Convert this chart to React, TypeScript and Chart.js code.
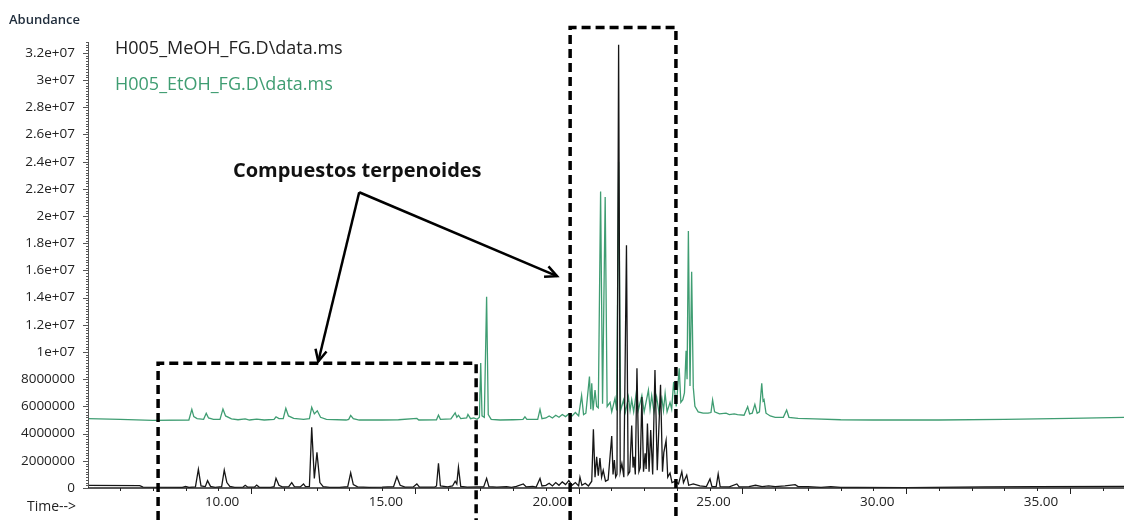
import React, { useEffect, useRef } from "react";
import { Chart, registerables } from "chart.js";

Chart.register(...registerables);

// ---- axis ranges (time in minutes, abundance in millions of counts) ----
const X_MIN = 5.02;
const X_MAX = 36.65;
const Y_MIN = 0;
const Y_MAX = 32.8;

const xTickValues = [10, 15, 20, 25, 30, 35];
const xTickLabels = ["10.00", "15.00", "20.00", "25.00", "30.00", "35.00"];

const yTickValues = [0, 2, 4, 6, 8, 10, 12, 14, 16, 18, 20, 22, 24, 26, 28, 30, 32];
const yTickLabels = [
  "0", "2000000", "4000000", "6000000", "8000000", "1e+07", "1.2e+07", "1.4e+07",
  "1.6e+07", "1.8e+07", "2e+07", "2.2e+07", "2.4e+07", "2.6e+07", "2.8e+07", "3e+07", "3.2e+07",
];

const seriesNames = ["H005_MeOH_FG.D\\data.ms", "H005_EtOH_FG.D\\data.ms"];
const yAxisTitle = "Abundance";
const xAxisTitle = "Time-->";
const annotationText = "Compuestos terpenoides";

// ---- MeOH trace (black) ----
const meohTime = [
  5.02, 6.6, 6.7, 7.9, 8.0, 8.1, 8.3, 8.39, 8.47, 8.6, 8.67, 8.76, 8.9, 9.1, 9.18, 9.26, 9.35, 9.5,
  9.75, 9.82, 9.9, 10.1, 10.17, 10.25, 10.6, 10.7, 10.76, 10.85, 10.95, 11.15, 11.24, 11.32, 11.5,
  11.6, 11.66, 11.78, 11.85, 11.93, 12.01, 12.1, 12.2, 12.4, 12.7, 12.95, 13.04, 13.12, 13.25, 13.6,
  14.0, 14.35, 14.45, 14.55, 14.7, 14.95, 15.06, 15.14, 15.6, 15.66, 15.72, 15.78, 16.0, 16.15,
  16.23, 16.28, 16.33, 16.4, 16.6, 16.9, 17.1, 17.19, 17.26, 17.5, 17.8, 17.95, 18.1, 18.31, 18.4,
  18.6, 18.7, 18.82, 18.88, 19.0, 19.1, 19.2, 19.3, 19.4, 19.5, 19.6, 19.7, 19.8, 19.9, 20.0, 20.04,
  20.1, 20.2, 20.3, 20.4, 20.45, 20.5, 20.55, 20.6, 20.65, 20.7, 20.75, 20.82, 20.9, 21.01, 21.05,
  21.09, 21.13, 21.17, 21.22, 21.27, 21.32, 21.38, 21.46, 21.51, 21.56, 21.62, 21.66, 21.69, 21.73,
  21.78, 21.84, 21.88, 21.93, 21.98, 22.03, 22.06, 22.1, 22.15, 22.2, 22.26, 22.33, 22.4, 22.5,
  22.56, 22.6, 22.67, 22.72, 22.79, 22.85, 22.95, 23.05, 23.15, 23.2, 23.3, 23.36, 23.5, 23.7, 23.9,
  24.01, 24.07, 24.2, 24.26, 24.32, 24.6, 24.83, 24.9, 25.2, 25.4, 25.6, 25.8, 26.0, 26.3, 26.61,
  26.7, 27.0, 27.4, 27.7, 28.0, 28.5, 30.0, 32.4, 34.0, 36.65,
];
const meohAbundance = [
  0.2, 0.18, 0.06, 0.05, 0.12, 0.04, 0.08, 1.37, 0.15, 0.1, 0.54, 0.12, 0.05, 0.1, 1.32, 0.4, 0.12, 0.05,
  0.06, 0.2, 0.06, 0.06, 0.22, 0.05, 0.05, 0.1, 0.71, 0.2, 0.08, 0.1, 0.39, 0.1, 0.08,
  0.3, 0.1, 0.12, 4.46, 0.7, 2.62, 0.4, 0.1, 0.05, 0.05, 0.1, 1.12, 0.25, 0.08, 0.05,
  0.06, 0.1, 0.83, 0.2, 0.06, 0.08, 0.3, 0.06, 0.06, 0.15, 1.81, 0.15, 0.08, 0.15,
  0.5, 0.3, 1.52, 0.12, 0.06, 0.08, 0.08, 0.71, 0.1, 0.06, 0.1, 0.05, 0.12, 0.3, 0.08,
  0.12, 0.06, 0.7, 0.15, 0.2, 0.35, 0.15, 0.4, 0.2, 0.45, 0.25, 0.55, 0.2, 0.4, 0.15, 0.8,
  0.2, 0.35, 0.15, 0.5, 4.31, 0.8, 2.3, 0.9, 2.2, 0.8, 1.3, 0.5, 0.6, 3.82, 1.0,
  2.06, 0.8, 1.0, 32.6, 1.2, 1.8, 0.8, 17.85, 1.0, 1.2, 4.6, 1.5, 2.3, 1.0,
  8.8, 1.2, 1.5, 6.7, 1.2, 2.55, 1.4, 4.75, 1.2, 4.26, 1.0, 8.67, 1.3, 7.6,
  1.2, 2.6, 3.5, 0.8, 1.1, 0.4, 0.5, 0.3, 1.2, 0.4, 0.95, 0.2, 0.3, 0.15, 0.1,
  0.66, 0.1, 0.1, 1.03, 0.1, 0.08, 0.3, 0.08, 0.1, 0.2, 0.1, 0.15, 0.1, 0.15, 0.25,
  0.1, 0.1, 0.05, 0.1, 0.05, 0.04, 0.03, 0.08, 0.1, 0.12,
];

// ---- EtOH trace (green) ----
const etohTime = [
  5.02, 6.0, 7.0, 8.1, 8.19, 8.25, 8.35, 8.55, 8.63, 8.7, 8.85, 9.05, 9.14, 9.22, 9.4, 9.6, 9.82, 9.95,
  10.17, 10.4, 10.7, 10.76, 10.85, 10.98, 11.06, 11.14, 11.3, 11.6, 11.78, 11.85, 11.93, 12.02, 12.12,
  12.3, 12.9, 12.98, 13.04, 13.12, 13.3, 14.0, 14.5, 15.06, 15.12, 15.66, 15.72, 15.78, 16.1, 16.23,
  16.28, 16.33, 16.4, 16.58, 16.62, 16.7, 16.8, 16.9, 16.97, 17.01, 17.05, 17.12, 17.19, 17.24, 17.33,
  17.6, 18.0, 18.3, 18.36, 18.42, 18.75, 18.82, 18.88, 19.0, 19.1, 19.2, 19.3, 19.4, 19.5, 19.6, 19.7,
  19.8, 19.9, 20.0, 20.09, 20.15, 20.22, 20.33, 20.37, 20.4, 20.44, 20.5, 20.55, 20.6, 20.67, 20.73,
  20.81, 20.87, 20.96, 21.01, 21.11, 21.16, 21.22, 21.28, 21.37, 21.43, 21.52, 21.57, 21.62, 21.68,
  21.77, 21.82, 21.93, 22.0, 22.13, 22.18, 22.23, 22.3, 22.38, 22.45, 22.54, 22.59, 22.64, 22.7,
  22.79, 22.84, 22.9, 22.98, 23.07, 23.12, 23.18, 23.23, 23.28, 23.31, 23.35, 23.4, 23.45, 23.5,
  23.55, 23.65, 23.8, 23.95, 24.04, 24.09, 24.15, 24.3, 24.5, 24.6, 24.75, 24.85, 25.05, 25.16,
  25.22, 25.3, 25.38, 25.45, 25.52, 25.59, 25.63, 25.66, 25.72, 25.85, 26.0, 26.25, 26.35, 26.42,
  26.7, 27.2, 28.0, 29.0, 31.0, 33.0, 35.0, 36.65,
];
const etohAbundance = [
  5.1, 5.05, 4.98, 5.0, 5.78, 5.25, 5.1, 5.05, 5.49, 5.15, 5.05, 5.05, 5.8, 5.3, 5.08, 5.02, 5.08, 5.0,
  5.07, 5.0, 5.05, 5.24, 5.1, 5.1, 5.86, 5.3, 5.12, 5.05, 5.1, 5.93, 5.45, 5.68, 5.2,
  5.05, 5.0, 5.05, 5.34, 5.1, 5.0, 5.0, 5.02, 5.12, 5.0, 5.02, 5.36, 5.05, 5.08, 5.53,
  5.2, 5.35, 5.1, 5.15, 5.41, 5.1, 5.15, 5.05, 5.2, 9.2, 5.3, 5.2, 14.06, 5.4, 5.05,
  5.0, 5.02, 5.05, 5.24, 5.05, 5.05, 5.78, 5.1, 5.15, 5.3, 5.15, 5.35, 5.2, 5.4, 5.25, 5.45,
  5.3, 5.55, 5.3, 6.8, 5.4, 5.5, 8.2, 5.8, 7.7, 5.7, 7.2, 6.0, 5.9, 21.8, 6.2,
  21.4, 6.0, 6.3, 5.6, 6.6, 5.7, 24.0, 5.7, 6.47, 5.6, 6.7, 5.7, 6.5, 5.6,
  7.2, 5.7, 6.8, 5.6, 7.2, 5.8, 6.8, 5.6, 6.7, 5.6, 6.6, 5.7, 6.96, 5.6,
  6.3, 5.8, 7.8, 6.0, 8.8, 6.3, 6.5, 7.0, 10.1, 8.0, 18.9, 7.5, 15.9, 7.4,
  6.0, 5.6, 5.5, 5.5, 5.55, 6.47, 5.6, 5.45, 5.5, 5.4, 5.45, 5.4, 5.35, 5.98,
  5.45, 5.5, 6.15, 5.5, 5.6, 7.7, 6.4, 6.5, 5.5, 5.3, 5.2, 5.2, 5.73, 5.2,
  5.12, 5.08, 5.02, 5.0, 5.0, 5.05, 5.12, 5.2,
];

// ---- annotation geometry (data units) ----
const boxLeft = { x0: 7.16, x1: 16.87, top: 9.18 };
const boxRight = { x0: 19.74, x1: 22.97, top: 33.87 };
const arrowApex = { x: 13.3, y: 21.75 };
const arrowTips = [
  { x: 12.05, y: 9.3 },
  { x: 19.34, y: 15.58 },
];
const labelAnchor = { x: 13.24, y: 23.3 };

const FONT = '"Open Sans", "DejaVu Sans", sans-serif';
const GREEN = "#3f9d72";
const BLACK = "#161616";

function drawArrow(ctx: CanvasRenderingContext2D, x0: number, y0: number, x1: number, y1: number) {
  ctx.beginPath();
  ctx.moveTo(x0, y0);
  ctx.lineTo(x1, y1);
  ctx.stroke();
  const ang = Math.atan2(y1 - y0, x1 - x0);
  const len = 13;
  const spread = 0.45;
  ctx.beginPath();
  ctx.moveTo(x1 - len * Math.cos(ang - spread), y1 - len * Math.sin(ang - spread));
  ctx.lineTo(x1, y1);
  ctx.lineTo(x1 - len * Math.cos(ang + spread), y1 - len * Math.sin(ang + spread));
  ctx.stroke();
}

const overlayPlugin = {
  id: "overlay",
  afterDraw(chart: any) {
    const { ctx, chartArea, scales } = chart;
    const xs = scales.x;
    const ys = scales.y;
    const X = (v: number) => xs.getPixelForValue(v);
    const Y = (v: number) => ys.getPixelForValue(v);
    ctx.save();

    // y axis line + ticks
    ctx.strokeStyle = "#555";
    ctx.lineWidth = 1;
    ctx.beginPath();
    ctx.moveTo(chartArea.left + 0.5, chartArea.top);
    ctx.lineTo(chartArea.left + 0.5, chartArea.bottom);
    ctx.stroke();
    for (let i = 0; i <= 164; i++) {
      const py = Math.round(Y(i * 0.2)) + 0.5;
      const len = i % 10 === 0 ? 5 : 2;
      ctx.beginPath();
      ctx.moveTo(chartArea.left - len, py);
      ctx.lineTo(chartArea.left, py);
      ctx.stroke();
    }

    // x axis line + ticks
    ctx.strokeStyle = "#222";
    ctx.lineWidth = 1.5;
    ctx.beginPath();
    ctx.moveTo(chartArea.left, chartArea.bottom);
    ctx.lineTo(chartArea.right, chartArea.bottom);
    ctx.stroke();
    ctx.lineWidth = 1;
    for (let t = 6; t <= 36; t++) {
      const px = Math.round(X(t)) + 0.5;
      const len = t % 5 === 0 ? 6 : 3;
      ctx.beginPath();
      ctx.moveTo(px, chartArea.bottom);
      ctx.lineTo(px, chartArea.bottom + len);
      ctx.stroke();
    }

    // axis titles
    ctx.textBaseline = "middle";
    ctx.textAlign = "left";
    ctx.fillStyle = "#1f2c3b";
    ctx.font = `600 13px ${FONT}`;
    ctx.fillText(yAxisTitle, 9, 20);
    ctx.fillStyle = "#222";
    ctx.font = `14px ${FONT}`;
    ctx.fillText(xAxisTitle, 27, 507);

    // legend texts
    ctx.font = `18px ${FONT}`;
    ctx.fillStyle = "#222";
    ctx.fillText(seriesNames[0], 115, 49);
    ctx.fillStyle = GREEN;
    ctx.fillText(seriesNames[1], 115, 85);

    // dashed boxes
    ctx.strokeStyle = "#000";
    ctx.lineWidth = 3.5;
    ctx.setLineDash([9, 5]);
    for (const b of [boxLeft, boxRight]) {
      ctx.beginPath();
      ctx.moveTo(X(b.x0), chart.height);
      ctx.lineTo(X(b.x0), Y(b.top));
      ctx.lineTo(X(b.x1), Y(b.top));
      ctx.lineTo(X(b.x1), chart.height);
      ctx.stroke();
    }
    ctx.setLineDash([]);

    // arrows
    ctx.lineWidth = 2.5;
    ctx.lineJoin = "miter";
    for (const tip of arrowTips) {
      drawArrow(ctx, X(arrowApex.x), Y(arrowApex.y), X(tip.x), Y(tip.y));
    }

    // annotation label
    ctx.fillStyle = "#111";
    ctx.font = `bold 20px ${FONT}`;
    ctx.textAlign = "center";
    ctx.fillText(annotationText, X(labelAnchor.x), Y(labelAnchor.y));

    ctx.restore();
  },
};

export default function App() {
  const canvasRef = useRef<HTMLCanvasElement | null>(null);

  useEffect(() => {
    const canvas = canvasRef.current;
    if (!canvas) return;
    const chart = new Chart(canvas, {
      type: "line",
      data: {
        datasets: [
          {
            label: seriesNames[0],
            data: meohTime.map((t, i) => ({ x: t, y: meohAbundance[i] })),
            borderColor: BLACK,
            borderWidth: 1.3,
            pointRadius: 0,
            tension: 0,
            fill: false,
          },
          {
            label: seriesNames[1],
            data: etohTime.map((t, i) => ({ x: t, y: etohAbundance[i] })),
            borderColor: GREEN,
            borderWidth: 1.3,
            pointRadius: 0,
            tension: 0,
            fill: false,
          },
        ],
      },
      options: {
        animation: false,
        responsive: false,
        maintainAspectRatio: false,
        layout: { padding: { top: 42, right: 0, left: 0, bottom: 0 } },
        plugins: {
          legend: { display: false },
          tooltip: { enabled: false },
          title: { display: false },
        },
        scales: {
          x: {
            type: "linear",
            min: X_MIN,
            max: X_MAX,
            grid: { display: false, drawTicks: false },
            border: { display: false },
            afterBuildTicks: (scale: any) => {
              scale.ticks = xTickValues.map((v) => ({ value: v }));
            },
            afterFit: (scale: any) => {
              scale.height = 32;
            },
            ticks: {
              autoSkip: false,
              maxRotation: 0,
              padding: 6,
              labelOffset: -29,
              color: "#222",
              font: { family: FONT, size: 13.5 },
              callback: (_v: any, i: number) => xTickLabels[i],
            },
          },
          y: {
            type: "linear",
            min: Y_MIN,
            max: Y_MAX,
            grid: { display: false, drawTicks: false },
            border: { display: false },
            afterBuildTicks: (scale: any) => {
              scale.ticks = yTickValues.map((v) => ({ value: v }));
            },
            afterFit: (scale: any) => {
              scale.width = 88;
            },
            ticks: {
              autoSkip: false,
              padding: 13,
              color: "#222",
              font: { family: FONT, size: 13.5 },
              callback: (_v: any, i: number) => yTickLabels[i],
            },
          },
        },
      },
      plugins: [overlayPlugin],
    });
    return () => chart.destroy();
  }, []);

  return (
    <div style={{ position: "absolute", left: 0, top: 0, width: 1124, height: 520, background: "#fff" }}>
      <canvas ref={canvasRef} width={1124} height={520} style={{ display: "block" }} />
    </div>
  );
}
